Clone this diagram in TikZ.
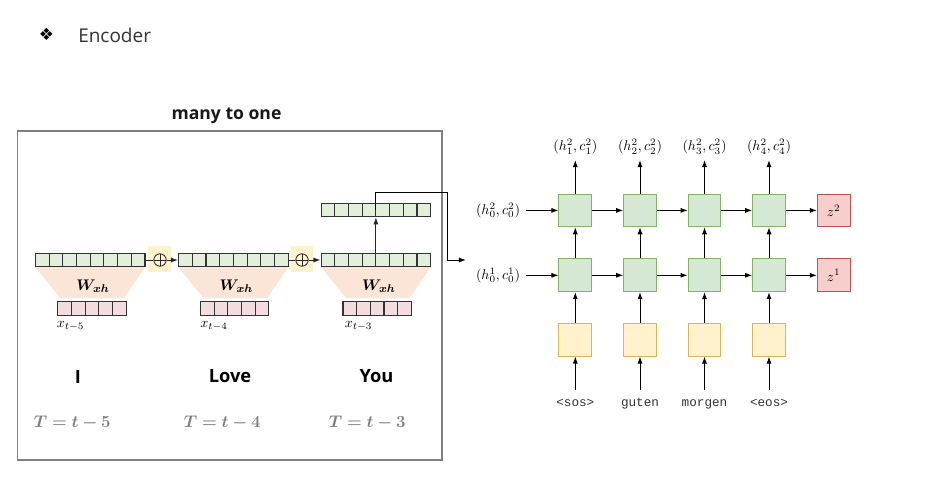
\documentclass[tikz,border=0pt]{standalone}
\usepackage{fontspec}
\usepackage{bm}
\setsansfont{Open Sans}
\setmonofont{Liberation Mono}
\newfontfamily\dingfont{DejaVu Sans}
\usetikzlibrary{calc,arrows.meta}

\definecolor{vecgreen}{HTML}{E2EFDA}
\definecolor{vecpink}{HTML}{F2DCE0}
\definecolor{wpeach}{HTML}{FBE5D6}
\definecolor{plusyellow}{HTML}{FFF2CC}
\definecolor{cellborder}{HTML}{333333}
\definecolor{lstmfill}{HTML}{D5E8D4}
\definecolor{lstmdraw}{HTML}{82B366}
\definecolor{embfill}{HTML}{FFF2CC}
\definecolor{embdraw}{HTML}{D6B656}
\definecolor{zfill}{HTML}{F8CECC}
\definecolor{zdraw}{HTML}{B85450}
\definecolor{framegray}{HTML}{7F7F7F}

\begin{document}
\begin{tikzpicture}[
  x=0.025cm,
  y=-0.025cm,
  font=\sffamily,
  >={Latex[length=5pt,width=3.6pt]},
  cellline/.style={draw=cellborder, line width=0.8pt},
  cells/.style={
    path picture={
      \pgfmathtruncatemacro\lastcell{#1-1}
      \foreach \k in {1,...,\lastcell}
        \draw[cellline]
          ($(path picture bounding box.south west)!\k/#1!(path picture bounding box.south east)$)
          -- ($(path picture bounding box.north west)!\k/#1!(path picture bounding box.north east)$);
    }
  },
  hvec/.style={
    rectangle,
    draw=cellborder,
    fill=vecgreen,
    line width=0.8pt,
    minimum width=2.74cm,
    minimum height=0.335cm,
    inner sep=0pt,
    cells=8
  },
  xvec/.style={hvec, fill=vecpink, minimum width=1.71cm, minimum height=0.35cm, cells=5},
  plusbg/.style={rectangle, fill=plusyellow, minimum width=0.55cm, minimum height=0.67cm, inner sep=0pt},
  plus/.style={
    circle,
    draw=black!85,
    line width=0.6pt,
    minimum size=0.31cm,
    inner sep=0pt,
    path picture={
      \draw[black!85, line width=0.6pt]
        (path picture bounding box.north) -- (path picture bounding box.south)
        (path picture bounding box.west) -- (path picture bounding box.east);
    }
  },
  wfill/.style={fill=wpeach},
  frame/.style={draw=framegray, line width=1.4pt},
  link/.style={draw=black!85, line width=0.7pt},
  flow/.style={draw=black, line width=0.7pt, ->},
  heading/.style={font=\fontsize{13.5}{16}\selectfont\sffamily, text=black!80},
  title/.style={font=\fontsize{12.5}{15}\selectfont\sffamily\bfseries, text=black!90},
  word/.style={font=\fontsize{13}{15}\selectfont\sffamily\bfseries},
  wlabel/.style={font=\fontsize{11}{13}\selectfont},
  xlabel/.style={font=\fontsize{10}{12}\selectfont, inner sep=0pt},
  tlabel/.style={font=\fontsize{13}{15}\selectfont, text=framegray},
  lstm/.style={rectangle, draw=lstmdraw, fill=lstmfill, line width=0.6pt, minimum size=0.82cm, inner sep=0pt},
  emb/.style={lstm, draw=embdraw, fill=embfill},
  zbox/.style={lstm, draw=zdraw, fill=zfill, font=\fontsize{10}{12}\selectfont},
  state/.style={font=\fontsize{10}{12}\selectfont, inner sep=4pt},
  token/.style={
    font=\fontsize{9}{10}\selectfont\ttfamily,
    text=black!80,
    text height=6pt,
    text depth=2pt,
    inner sep=6pt
  }
]

\useasboundingbox (0,0) rectangle (948,489);

% Slide heading.
\node (bullet) at (46.5,34) {\fontsize{12}{14}\selectfont\dingfont ❖};
\node[heading, anchor=west, inner sep=0pt] (head) at (78,35) {Encoder};

% Left panel: many to one.
\node[title] (panel title) at (226.5,116) {many to one};
\path[frame] (17.5,130.7) rectangle (442,460);

\fill[wfill] (35.2,267) -- (145.2,267) -- (124.2,298) -- (60.2,298) -- cycle;
\fill[wfill] (178.4,267) -- (288.4,267) -- (267.4,298) -- (203.4,298) -- cycle;
\fill[wfill] (320.9,267) -- (430.9,267) -- (409.9,298) -- (345.9,298) -- cycle;

\node[wlabel] (w1) at (93,286) {$\bm{W_{xh}}$};
\node[wlabel] (w2) at (236.4,286) {$\bm{W_{xh}}$};
\node[wlabel] (w3) at (378.9,286) {$\bm{W_{xh}}$};

\node[hvec] (h1) at (90.2,260) {};
\node[hvec] (h2) at (233.4,260) {};
\node[hvec] (h3) at (375.9,260) {};
\node[hvec] (hout) at (375.9,210) {};

\node[xvec] (x1) at (92,308.7) {};
\node[xvec] (x2) at (234.6,308.7) {};
\node[xvec] (x3) at (377.2,308.7) {};

\node[xlabel, anchor=west] (xl1) at (56.5,326) {$x_{t-5}$};
\node[xlabel, anchor=west] (xl2) at (200,326) {$x_{t-4}$};
\node[xlabel, anchor=west] (xl3) at (344.5,326) {$x_{t-3}$};

\node[plusbg] (pb1) at (159.5,259) {};
\node[plusbg] (pb2) at (302,259) {};
\node[plus] (p1) at (160,260) {};
\node[plus] (p2) at (302,260) {};

\draw[link] (h1) -- (p1);
\draw[link, ->] (p1) -- (h2);
\draw[link] (h2) -- (p2);
\draw[link, ->] (p2) -- (h3);
\draw[link, ->] (h3) -- (hout);

\node[word] (word1) at (78,376.5) {I};
\node[word] (word2) at (230,376.5) {Love};
\node[word] (word3) at (376.5,376.5) {You};

\node[tlabel] (t1) at (72.3,423) {$\bm{T=t-5}$};
\node[tlabel] (t2) at (222.3,423) {$\bm{T=t-4}$};
\node[tlabel] (t3) at (367.3,423) {$\bm{T=t-3}$};

% Hand-over to the stacked LSTM.
\coordinate (handover) at (466,260);
\draw[link, draw=black, ->] (hout.center) |- (447,192.5) |- (handover);

% Right: two-layer LSTM encoder.
\node[lstm] (a21) at (575.3,210.4) {};
\node[lstm] (a22) at (640,210.4) {};
\node[lstm] (a23) at (704.5,210.4) {};
\node[lstm] (a24) at (769,210.4) {};
\node[lstm] (a11) at (575.3,275.3) {};
\node[lstm] (a12) at (640,275.3) {};
\node[lstm] (a13) at (704.5,275.3) {};
\node[lstm] (a14) at (769,275.3) {};
\node[emb] (e1) at (575.3,339.7) {};
\node[emb] (e2) at (640,339.7) {};
\node[emb] (e3) at (704.5,339.7) {};
\node[emb] (e4) at (769,339.7) {};
\node[zbox] (z2) at (833.7,210.4) {$z^2$};
\node[zbox] (z1) at (833.7,275.3) {$z^1$};

\node[state] (s1) at (575.3,146.7) {$(h^2_1,c^2_1)$};
\node[state] (s2) at (640,146.7) {$(h^2_2,c^2_2)$};
\node[state] (s3) at (704.5,146.7) {$(h^2_3,c^2_3)$};
\node[state] (s4) at (769,146.7) {$(h^2_4,c^2_4)$};
\node[state] (init2) at (498,210.4) {$(h^2_0,c^2_0)$};
\node[state] (init1) at (498,275.3) {$(h^1_0,c^1_0)$};

\node[token] (k1) at (575.3,404) {<sos>};
\node[token] (k2) at (640,404) {guten};
\node[token] (k3) at (704.5,404) {morgen};
\node[token] (k4) at (769,404) {<eos>};

\draw[flow] (init2) -- (a21);
\draw[flow] (a21) -- (a22);
\draw[flow] (a22) -- (a23);
\draw[flow] (a23) -- (a24);
\draw[flow] (a24) -- (z2);
\draw[flow] (init1) -- (a11);
\draw[flow] (a11) -- (a12);
\draw[flow] (a12) -- (a13);
\draw[flow] (a13) -- (a14);
\draw[flow] (a14) -- (z1);

\draw[flow] (a21) -- (s1);
\draw[flow] (a22) -- (s2);
\draw[flow] (a23) -- (s3);
\draw[flow] (a24) -- (s4);
\draw[flow] (a11) -- (a21);
\draw[flow] (a12) -- (a22);
\draw[flow] (a13) -- (a23);
\draw[flow] (a14) -- (a24);
\draw[flow] (e1) -- (a11);
\draw[flow] (e2) -- (a12);
\draw[flow] (e3) -- (a13);
\draw[flow] (e4) -- (a14);
\draw[flow] (k1) -- (e1);
\draw[flow] (k2) -- (e2);
\draw[flow] (k3) -- (e3);
\draw[flow] (k4) -- (e4);

\end{tikzpicture}
\end{document}
